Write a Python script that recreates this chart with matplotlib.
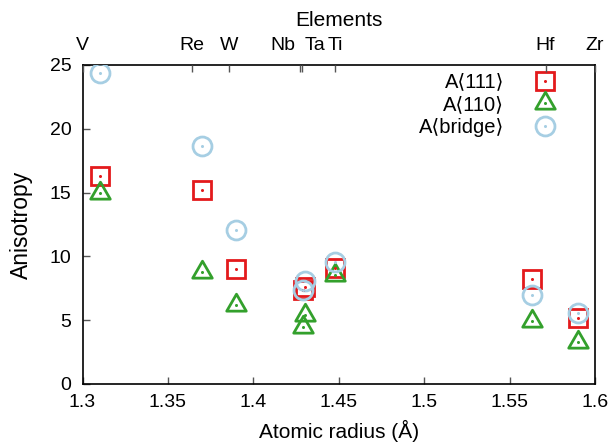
import matplotlib
matplotlib.use("Agg")
import matplotlib.pyplot as plt
from matplotlib.path import Path
from matplotlib.transforms import ScaledTranslation
import numpy as np

plt.rcParams['font.family'] = ['Liberation Sans', 'DejaVu Sans']

elements = ['V', 'Re', 'W', 'Nb', 'Ta', 'Ti', 'Hf', 'Zr']
radius = [1.31, 1.37, 1.39, 1.429, 1.43, 1.448, 1.563, 1.59]
a111 = [16.3, 15.2, 9.0, 7.4, 7.6, 9.1, 8.2, 5.15]
a110 = [14.95, 8.75, 6.2, 4.45, 5.4, 8.55, 4.9, 3.3]
bridge = [24.35, 18.65, 12.05, 7.4, 8.1, 9.55, 6.95, 5.6]

c_red = '#e31a1c'
c_green = '#33a02c'
c_blue = '#a6cee3'

FS_TICK = 14
FS_LAB = 15

# triangle with centroid at the data point (gnuplot style)
tri = Path([(0, 1.333), (-1.155, -0.667), (1.155, -0.667), (0, 1.333)],
           [Path.MOVETO, Path.LINETO, Path.LINETO, Path.CLOSEPOLY])

fig = plt.figure(figsize=(6.09, 4.48), dpi=100)
ax = fig.add_axes([0.1355, 0.1429, 0.8415, 0.7121])

ms = 13
mew = 2.0
series = [
    (a111, 's', c_red, 'A⟨111⟩', ms),
    (a110, tri, c_green, 'A⟨110⟩', ms * 1.25),
    (bridge, 'o', c_blue, 'A⟨bridge⟩', ms * 1.05),
]
handles = []
for vals, mk, col, lab, size in series:
    ax.plot(radius, vals, linestyle='none', marker=mk, markersize=size,
            markerfacecolor='none', markeredgecolor=col, markeredgewidth=mew,
            zorder=3)
    ax.plot(radius, vals, linestyle='none', marker='o', markersize=2.2,
            markerfacecolor=col, markeredgecolor='none', zorder=4)
    h1, = ax.plot([], [], linestyle='none', marker=mk, markersize=size,
                  markerfacecolor='none', markeredgecolor=col,
                  markeredgewidth=mew)
    h2, = ax.plot([], [], linestyle='none', marker='o', markersize=2.2,
                  markerfacecolor=col, markeredgecolor='none')
    handles.append(((h1, h2), lab))

ax.set_xlim(1.3, 1.6)
ax.set_ylim(0, 25)
ax.set_xticks([1.3, 1.35, 1.4, 1.45, 1.5, 1.55, 1.6])
ax.set_xticklabels(['1.3', '1.35', '1.4', '1.45', '1.5', '1.55', '1.6'])
ax.set_yticks([0, 5, 10, 15, 20, 25])
ax.tick_params(axis='both', direction='in', length=5, width=1,
               color='#555555', labelsize=FS_TICK)
ax.tick_params(axis='y', pad=8, right=False)
ax.tick_params(axis='x', pad=7, top=False)
for s in ax.spines.values():
    s.set_linewidth(1.2)
ax.set_xlabel('Atomic radius (Å)', fontsize=FS_LAB, labelpad=7)
ax.set_ylabel('Anisotropy', fontsize=16.5, labelpad=12)

ax2 = ax.twiny()
ax2.set_xlim(min(radius), max(radius))
ax2.set_xticks(radius)
ax2.set_xticklabels(elements)
ax2.tick_params(axis='x', direction='in', length=5, width=1,
                color='#555555', labelsize=FS_TICK, pad=8)
ax2.set_xlabel('Elements', fontsize=FS_LAB, labelpad=8)
for s in ax2.spines.values():
    s.set_visible(False)
for i, t in enumerate(ax2.get_xticklabels()):
    if elements[i] == 'Nb':
        t.set_horizontalalignment('right')
        t.set_transform(t.get_transform() + ScaledTranslation(-0.05, 0, fig.dpi_scale_trans))
    elif elements[i] == 'Ta':
        t.set_horizontalalignment('left')
        t.set_transform(t.get_transform() + ScaledTranslation(0.02, 0, fig.dpi_scale_trans))

leg = ax.legend([h for h, _ in handles], [l for _, l in handles],
                loc='upper right', bbox_to_anchor=(0.953, 1.02),
                frameon=False, markerfirst=False, fontsize=14.5,
                labelspacing=0.18, handlelength=1.2, handletextpad=1.4,
                borderpad=0.2)

fig.savefig('out.png', dpi=100)
